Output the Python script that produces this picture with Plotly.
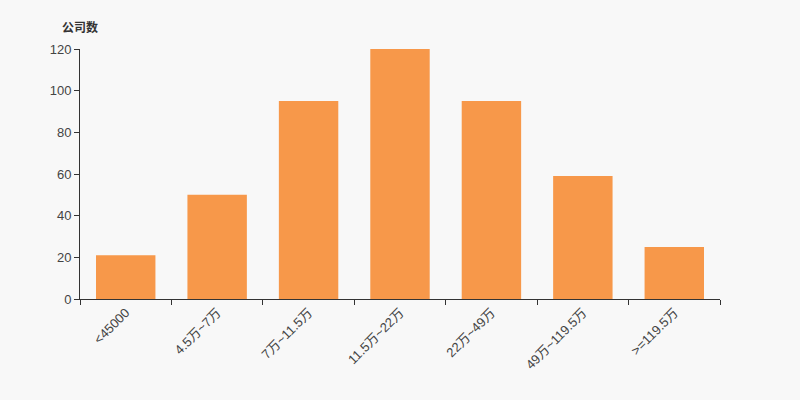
import plotly.graph_objects as go

categories = ["<45000", "4.5万~7万", "7万~11.5万", "11.5万~22万", "22万~49万", "49万~119.5万", ">=119.5万"]
counts = [21, 50, 95, 120, 95, 59, 25]
y_title = "公司数"

fig = go.Figure(go.Bar(
    x=categories, y=counts,
    marker=dict(color="#f7984a", line=dict(width=0)),
    width=0.65,
))

fig.update_layout(
    width=800, height=400,
    margin=dict(l=80, r=80, t=49, b=101),
    paper_bgcolor="#f8f8f8", plot_bgcolor="#f8f8f8",
    font=dict(family="Liberation Sans, Arial, Noto Sans CJK SC, sans-serif", size=12, color="#333"),
    showlegend=False,
    bargap=0.35,
)
fig.update_xaxes(
    type="category", tickson="boundaries", ticks="outside", ticklen=5,
    tickcolor="#333", showline=True, linecolor="#333", linewidth=1,
    tickangle=-45, showgrid=False, tickfont=dict(size=13, color="#444"),
)
fig.update_yaxes(
    range=[0, 120], dtick=20, ticks="outside", ticklen=5, tickcolor="#333",
    showline=True, linecolor="#333", linewidth=1, showgrid=False, zeroline=False,
    tickfont=dict(size=13, color="#444"),
)
fig.add_annotation(
    text="<b>" + y_title + "</b>", xref="paper", yref="paper", x=0, y=1.088,
    xanchor="center", yanchor="middle", showarrow=False,
    font=dict(size=12, color="#333", family="Noto Sans CJK SC, sans-serif"),
)
fig.write_html(
    "out.html",
    config={"displayModeBar": False},
    post_script="document.body.style.margin='0';document.body.style.background='#f8f8f8';",
)
